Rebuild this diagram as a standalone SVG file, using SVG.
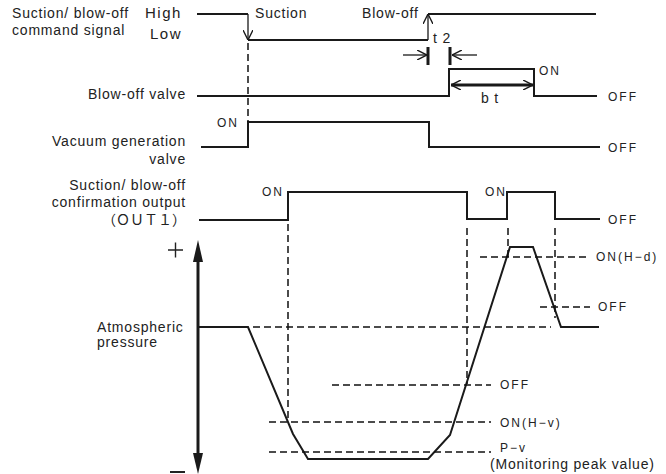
<svg xmlns="http://www.w3.org/2000/svg" width="666" height="474" viewBox="0 0 666 474">
<style>
.lbl{font-family:"Liberation Sans",Arial,sans-serif;font-size:14px;letter-spacing:0.8px;fill:#222}
.sm{font-family:"Liberation Sans",Arial,sans-serif;font-size:12px;letter-spacing:2px;fill:#222}
.hl{font-family:"Liberation Sans",Arial,sans-serif;font-size:15px;letter-spacing:1.5px;fill:#222}
.sig{fill:none;stroke:#1a1a1a;stroke-width:2;stroke-linejoin:miter}
.dash{fill:none;stroke:#111;stroke-width:1.5;stroke-dasharray:7 4}
.thin{fill:none;stroke:#1a1a1a;stroke-width:1.3}
</style>
<defs>
<marker id="open" viewBox="0 0 10 10" refX="10" refY="5" markerWidth="10" markerHeight="10" markerUnits="userSpaceOnUse" orient="auto-start-reverse">
<path d="M0,0 L10,5 L0,10" fill="none" stroke="#1a1a1a" stroke-width="1.4"/>
</marker>
</defs>

<g id="command-signal">
<text class="lbl" x="12" y="18">Suction/ blow-off</text>
<text class="lbl" x="12" y="35">command signal</text>
<text class="hl" x="145" y="18">High</text>
<text class="hl" x="150" y="39">Low</text>
<text class="lbl" x="255" y="18">Suction</text>
<text class="lbl" x="362" y="18">Blow-off</text>
<path class="sig" d="M197,14 H248 M248,40 H428 M428,14 H596"/>
</g>

<g id="blow-off-valve">
<text class="lbl" x="186" y="99" text-anchor="end">Blow-off valve</text>
<path class="sig" d="M197,96 H449 V69 H534 V96 H597"/>
<text class="sm" x="539" y="75">ON</text>
<text class="sm" x="608" y="101">OFF</text>
<text class="lbl" x="481" y="103">b t</text>
<text class="lbl" x="433" y="43">t 2</text>
</g>

<g id="vacuum-valve">
<text class="lbl" x="186" y="146" text-anchor="end">Vacuum generation</text>
<text class="lbl" x="186" y="164" text-anchor="end">valve</text>
<path class="sig" d="M201,147 H248 V122 H429 V147 H600"/>
<text class="sm" x="217" y="127">ON</text>
<text class="sm" x="608" y="152">OFF</text>
</g>

<g id="confirmation-output">
<text class="lbl" x="186" y="190" text-anchor="end">Suction/ blow-off</text>
<text class="lbl" x="186" y="207" text-anchor="end">confirmation output</text>
<text x="186" y="225" text-anchor="end" font-family="'Noto Sans CJK JP','Liberation Sans',sans-serif" font-size="14" fill="#222">（ＯＵＴ１）</text>
<path class="sig" d="M199,220 H288 V192 H467 V219 H507 V192 H555 V219 H600"/>
<text class="sm" x="262" y="196">ON</text>
<text class="sm" x="485" y="196">ON</text>
<text class="sm" x="608" y="224">OFF</text>
</g>

<g id="pressure">
<text class="lbl" x="97" y="332">Atmospheric</text>
<text class="lbl" x="97" y="347">pressure</text>
<path d="M168,250 H183 M175.5,242.5 V257.5" stroke="#222" stroke-width="1.4" fill="none"/>
<rect x="170" y="471" width="15" height="2" fill="#222"/>
<path class="sig" d="M198,327 H248 L293,434 L308,459 H428 L450,435 L510,247 H533 L561,327 H599"/>
<text class="sm" x="596" y="261">ON(H−d)</text>
<text class="sm" x="598" y="311">OFF</text>
<text class="sm" x="500" y="389">OFF</text>
<text class="sm" x="500" y="427">ON(H−v)</text>
<text class="sm" x="500" y="452">P−v</text>
<text class="lbl" x="490" y="469" letter-spacing="0.6">(Monitoring peak value)</text>
</g>

<g id="connectors">
<path class="thin" d="M248,14 V40" marker-end="url(#open)"/>
<path class="thin" d="M428,40 V14" marker-end="url(#open)"/>
<path d="M428,47 V65 M450,47 V65" stroke="#1a1a1a" stroke-width="3"/>
<path class="thin" d="M403,55 H427" marker-end="url(#open)"/>
<path class="thin" d="M477,55 H452" marker-end="url(#open)"/>
<path d="M451,85 H533" stroke="#1a1a1a" stroke-width="3" fill="none"/>
<path class="thin" d="M460,85 H451" marker-end="url(#open)"/>
<path class="thin" d="M524,85 H533" marker-end="url(#open)"/>
<path d="M198,256 V458" stroke="#1a1a1a" stroke-width="3"/>
<polygon points="198,240 193,262 203,262" fill="#1a1a1a"/>
<polygon points="198,474 193,453 203,453" fill="#1a1a1a"/>
<path class="dash" d="M248,43 V122"/>
<path class="dash" d="M288,224 V422"/>
<path class="dash" d="M467,228 V384"/>
<path class="dash" d="M508,228 V258"/>
<path class="dash" d="M555,228 V318"/>
<path class="dash" d="M253,327 H551"/>
<path class="dash" d="M480,257 H590"/>
<path class="dash" d="M540,307 H590"/>
<path class="dash" d="M332,385 H491"/>
<path class="dash" d="M269,422 H491"/>
<path class="dash" d="M269,452 H491"/>
</g>
</svg>
